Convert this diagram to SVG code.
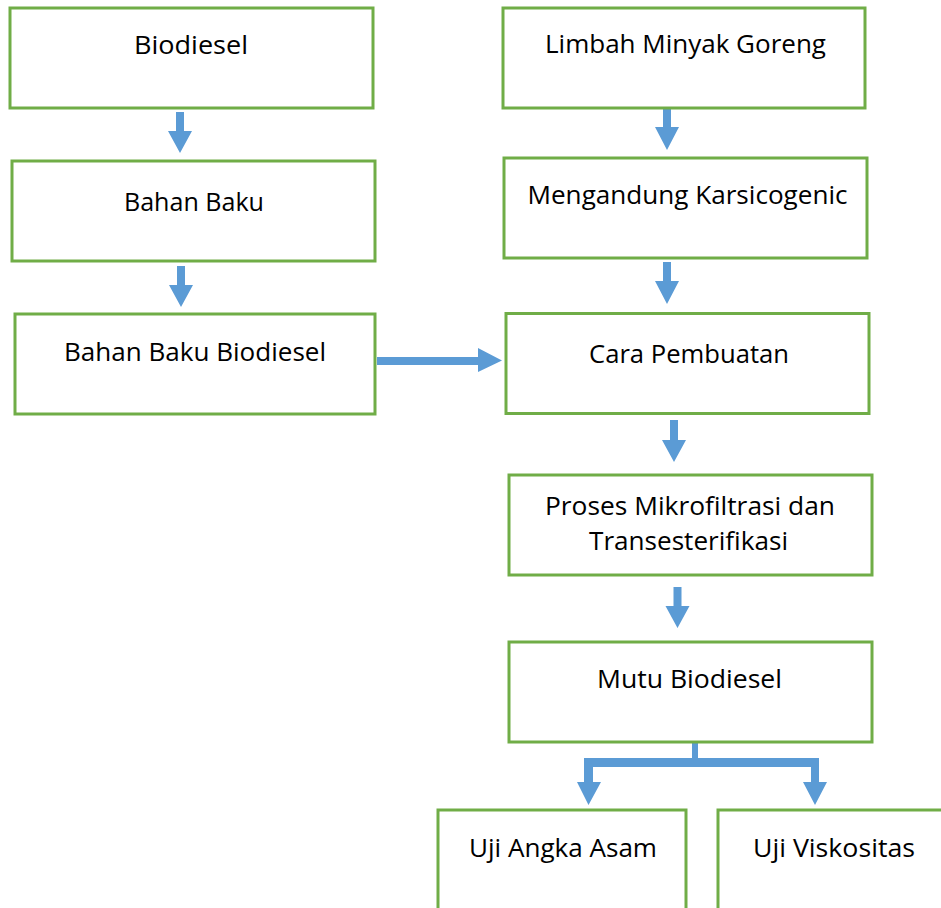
<svg xmlns="http://www.w3.org/2000/svg" width="941" height="908" viewBox="0 0 941 908">
<style>
.box{fill:#fff;stroke:#70AD47;stroke-width:3}
.lbl{font-family:"Open Sans","Liberation Sans",sans-serif;font-size:25.5px;fill:#000;text-anchor:middle}
.arr{fill:#5B9BD5}
</style>
<rect x="0" y="0" width="941" height="908" fill="#fff"/>
<g id="connectors">
<polygon class="arr" points="176,112 184,112 184,131 192,131 180,153 168,131 176,131"/>
<polygon class="arr" points="177,266 185,266 185,285 193,285 181,307 169,285 177,285"/>
<polygon class="arr" points="663,108 671,108 671,127 679,127 667,150 655,127 663,127"/>
<polygon class="arr" points="663,262 671,262 671,281 679,281 667,304 655,281 663,281"/>
<polygon class="arr" points="670,420 678,420 678,440 686,440 674,462 662,440 670,440"/>
<polygon class="arr" points="673.5,587 681.5,587 681.5,606 689.5,606 677.5,628 665.5,606 673.5,606"/>
<polygon class="arr" points="377,357 478,357 478,348 502,360.5 478,372 478,365 377,365"/>
<polygon class="arr" points="692,743 698,743 698,758 819,758 819,782 827,782 815,805 803,782 811,782 811,767 593,767 593,782 601,782 588.5,805 577,782 584,782 584,758 692,758"/>
</g>
<g id="n1"><rect class="box" x="10" y="8" width="363" height="100"/><text class="lbl" x="191" y="54" textLength="114" lengthAdjust="spacingAndGlyphs">Biodiesel</text></g>
<g id="n2"><rect class="box" x="12" y="161" width="363" height="100"/><text class="lbl" x="194" y="211" textLength="140" lengthAdjust="spacingAndGlyphs">Bahan Baku</text></g>
<g id="n3"><rect class="box" x="15" y="314" width="360" height="100"/><text class="lbl" x="195" y="360.5" textLength="262" lengthAdjust="spacingAndGlyphs">Bahan Baku Biodiesel</text></g>
<g id="n4"><rect class="box" x="503" y="8" width="362" height="100"/><text class="lbl" x="685.5" y="53" textLength="281" lengthAdjust="spacingAndGlyphs">Limbah Minyak Goreng</text></g>
<g id="n5"><rect class="box" x="504" y="158" width="363" height="100"/><text class="lbl" x="687.5" y="204" textLength="320" lengthAdjust="spacingAndGlyphs">Mengandung Karsicogenic</text></g>
<g id="n6"><rect class="box" x="506" y="313.5" width="363" height="100"/><text class="lbl" x="689" y="363" textLength="200" lengthAdjust="spacingAndGlyphs">Cara Pembuatan</text></g>
<g id="n7"><rect class="box" x="509" y="475" width="363" height="100"/><text class="lbl" x="690" y="515" textLength="290" lengthAdjust="spacingAndGlyphs">Proses Mikrofiltrasi dan</text><text class="lbl" x="688.5" y="550" textLength="199" lengthAdjust="spacingAndGlyphs">Transesterifikasi</text></g>
<g id="n8"><rect class="box" x="509" y="642" width="363" height="100"/><text class="lbl" x="689.5" y="688" textLength="185" lengthAdjust="spacingAndGlyphs">Mutu Biodiesel</text></g>
<g id="n9"><rect class="box" x="438" y="810" width="248" height="120"/><text class="lbl" x="563" y="857" textLength="188" lengthAdjust="spacingAndGlyphs">Uji Angka Asam</text></g>
<g id="n10"><rect class="box" x="718" y="810" width="250" height="120"/><text class="lbl" x="834" y="857" textLength="162" lengthAdjust="spacingAndGlyphs">Uji Viskositas</text></g>
</svg>
